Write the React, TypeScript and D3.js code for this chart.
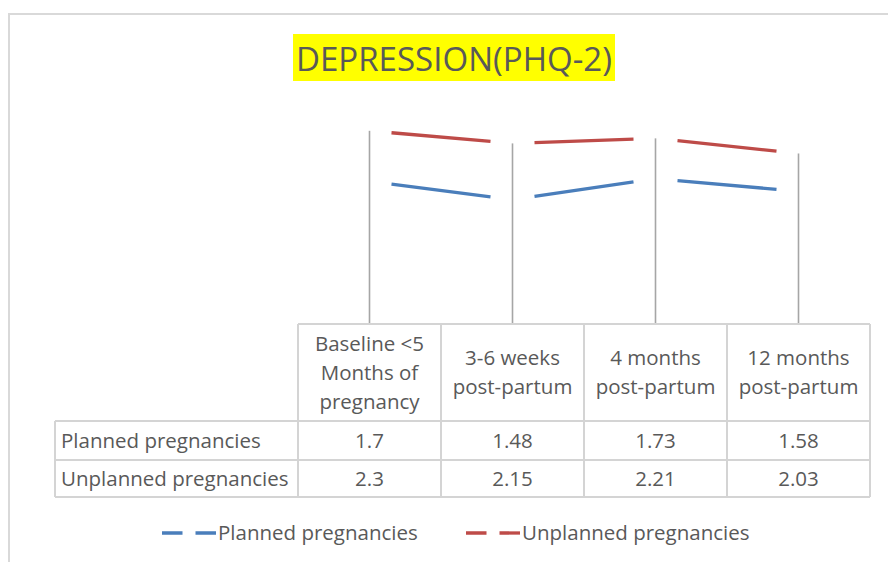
import React from "react";
import * as d3 from "d3";

const categories = ["Baseline", "3-6 weeks", "4 months", "12 months"];
const headerLines = [
  ["Baseline <5", "Months of", "pregnancy"],
  ["3-6 weeks", "post-partum"],
  ["4 months", "post-partum"],
  ["12 months", "post-partum"],
];
const planned = [1.7, 1.48, 1.73, 1.58];
const unplanned = [2.3, 2.15, 2.21, 2.03];
const seriesNames = ["Planned pregnancies", "Unplanned pregnancies"];
const seriesColors = ["#4a7ebb", "#be4b48"];

const W = 888;
const H = 562;
const FONT = "'Open Sans', sans-serif";
const TEXT = "#595959";
const GRID = "#d4d4d4";
const FS = 20.5;

export default function App() {
  const series = [planned, unplanned];

  // x: one band per category, table columns share it
  const x = d3.scaleBand<string>().domain(categories).range([298, 870]);
  const cx = (c: string) => (x(c) as number) + x.bandwidth() / 2;
  const y = d3.scaleLinear().domain([0, 2.5]).range([324, 114]);

  const rowY = [324, 421, 460, 497];
  const tableLeft = 55;
  const bw = x.bandwidth();
  const gap = 22;

  return (
    <svg
      width={W}
      height={H}
      style={{ position: "absolute", left: 0, top: 0, background: "#fff" }}
      fontFamily={FONT}
    >
      {/* chart frame */}
      <rect x={9} y={14} width={900} height={600} fill="none" stroke="#d9d9d9" strokeWidth={2} />

      {/* title */}
      <rect x={293} y={34} width={322} height={47} fill="#ffff00" />
      <text
        x={454}
        y={71}
        textAnchor="middle"
        fontSize={33}
        fill={TEXT}
        textLength={316}
        lengthAdjust="spacingAndGlyphs"
      >
        DEPRESSION(PHQ-2)
      </text>

      {/* drop lines */}
      {categories.map((c, i) => (
        <line
          key={"drop" + c}
          x1={cx(c)}
          x2={cx(c)}
          y1={y(d3.max(series, (s) => s[i]) as number)}
          y2={y(0)}
          stroke="#a6a6a6"
          strokeWidth={1.6}
        />
      ))}

      {/* series lines, long dash broken at each point */}
      {series.map((s, si) =>
        s.slice(0, -1).map((v, i) => (
          <line
            key={"seg" + si + "-" + i}
            x1={cx(categories[i])}
            y1={y(v)}
            x2={cx(categories[i + 1])}
            y2={y(s[i + 1])}
            pathLength={bw}
            stroke={seriesColors[si]}
            strokeWidth={3.3}
            strokeDasharray={`0 ${gap} ${bw - 2 * gap} ${gap}`}
          />
        ))
      )}

      {/* data table */}
      <g stroke={GRID} strokeWidth={2}>
        <line x1={298} x2={870} y1={rowY[0]} y2={rowY[0]} />
        {rowY.slice(1).map((ry) => (
          <line key={"h" + ry} x1={tableLeft} x2={870} y1={ry} y2={ry} />
        ))}
        <line x1={tableLeft} x2={tableLeft} y1={rowY[1]} y2={rowY[3]} />
        {categories.map((c) => (
          <line key={"v" + c} x1={x(c)} x2={x(c)} y1={rowY[0]} y2={rowY[3]} />
        ))}
        <line x1={870} x2={870} y1={rowY[0]} y2={rowY[3]} />
      </g>

      <g fontSize={FS} fill={TEXT} textAnchor="middle">
        {categories.map((c, i) => {
          const lines = headerLines[i];
          const mid = (rowY[0] + rowY[1]) / 2 + 7;
          return lines.map((t, k) => (
            <text key={c + k} x={cx(c)} y={mid + (k - (lines.length - 1) / 2) * 29}>
              {t}
            </text>
          ));
        })}
        {series.map((s, si) =>
          s.map((v, i) => (
            <text key={"v" + si + i} x={cx(categories[i])} y={(rowY[si + 1] + rowY[si + 2]) / 2 + 7}>
              {String(v)}
            </text>
          ))
        )}
        {seriesNames.map((n, si) => (
          <text
            key={"rn" + n}
            x={61}
            y={(rowY[si + 1] + rowY[si + 2]) / 2 + 7}
            textAnchor="start"
          >
            {n}
          </text>
        ))}
      </g>

      {/* legend */}
      {seriesNames.map((n, si) => {
        const lx = [162, 466][si];
        return (
          <g key={"lg" + n}>
            <line
              x1={lx}
              x2={lx + 54}
              y1={533}
              y2={533}
              stroke={seriesColors[si]}
              strokeWidth={3.3}
              strokeDasharray="20.5 13"
            />
            <text x={lx + 56} y={540} fontSize={FS} fill={TEXT}>
              {n}
            </text>
          </g>
        );
      })}
    </svg>
  );
}
